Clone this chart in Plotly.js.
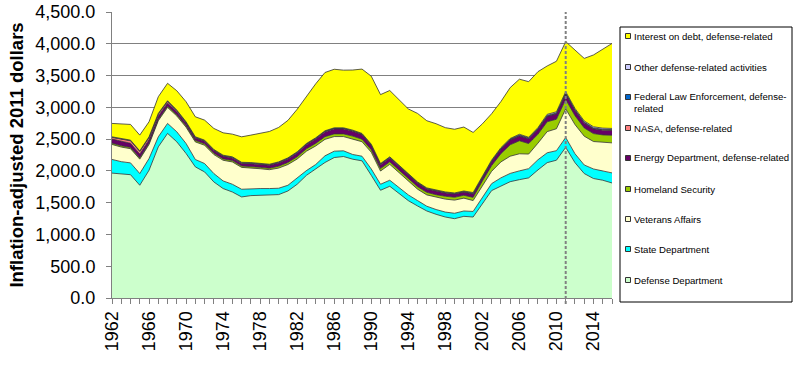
<!DOCTYPE html>
<html><head><meta charset="utf-8">
<script src="https://cdn.plot.ly/plotly-3.0.1.min.js"></script>
<style>html,body{margin:0;padding:0;background:#fff;}#chart{width:800px;height:370px;}</style>
</head><body><div id="chart"></div>
<script>
const years = [1962,1963,1964,1965,1966,1967,1968,1969,1970,1971,
  1972,1973,1974,1975,1976,1977,1978,1979,1980,1981,
  1982,1983,1984,1985,1986,1987,1988,1989,1990,1991,
  1992,1993,1994,1995,1996,1997,1998,1999,2000,2001,
  2002,2003,2004,2005,2006,2007,2008,2009,2010,2011,
  2012,2013,2014,2015,2016];

const defenseDept = [1965,1950,1940,1774,2010,2378,2590,2457,2274,2063,
  1984,1826,1722,1668,1590,1611,1616,1616,1627,1684,
  1790,1930,2026,2132,2210,2226,2184,2158,1930,1695,
  1758,1643,1532,1448,1369,1317,1274,1248,1285,1274,
  1480,1690,1760,1830,1862,1890,2015,2130,2168,2370,
  2130,1958,1880,1853,1810];
const stateDept = [215,195,186,184,185,158,157,158,157,116,
  132,132,120,122,121,111,106,106,100,90,
  100,75,74,105,100,90,74,73,100,95,
  95,95,90,85,75,75,78,85,84,88,
  100,110,130,130,138,145,160,155,150,156,
  140,135,150,150,158];
const veteransAffairs = [236,230,223,227,221,254,252,249,256,277,
  288,299,325,351,344,327,312,297,317,326,
  297,305,292,259,230,224,247,228,264,208,
  250,234,215,179,178,191,204,207,202,171,
  191,194,251,271,269,230,261,333,345,450,
  459,453,432,443,473];
const homelandSecurity = [20,20,20,20,20,20,20,20,22,22,
  22,22,22,22,22,22,22,22,30,32,
  35,38,40,42,42,42,42,40,40,38,
  40,40,40,40,40,42,45,45,45,50,
  70,90,130,180,205,165,140,155,150,150,
  140,130,125,120,120];
const energyDept = [65,70,65,60,55,55,50,45,42,40,
  40,40,40,40,40,42,44,46,50,55,
  60,65,70,75,78,78,76,72,68,62,
  60,60,58,56,52,52,50,50,50,52,
  55,62,70,75,78,75,80,85,85,88,
  82,78,75,75,75];
const nasa = [25,35,40,40,35,30,25,18,12,8,
  8,8,8,8,8,8,8,8,8,8,
  8,8,8,8,8,8,8,8,8,8,
  8,8,8,8,8,8,8,8,8,6,
  6,6,6,6,6,6,6,6,6,6,
  6,6,6,6,6];
const fedLawEnforcement = [5,5,5,5,5,5,5,5,5,5,
  5,5,5,5,5,5,5,5,5,5,
  5,5,5,5,5,5,5,5,5,5,
  5,5,5,5,5,5,5,5,5,8,
  8,8,8,8,8,8,8,8,8,8,
  8,8,8,8,8];
const otherDefense = [5,5,5,5,5,5,5,5,5,5,
  5,5,5,5,5,5,5,5,5,5,
  5,5,5,5,5,5,5,5,5,5,
  5,5,5,5,5,5,5,5,5,10,
  10,10,10,10,10,10,10,18,18,18,
  18,18,18,18,18];
const interestDebt = [211,226,247,248,237,262,274,304,315,315,
  315,331,352,357,401,432,468,515,542,590,
  670,739,850,917,921,907,946,1013,1070,1084,
  1044,1030,1022,1078,1057,1047,1011,1002,1006,946,
  820,730,725,800,867,875,881,761,795,788,
  917,984,1130,1237,1337];

const seriesNames = ["Defense Department","State Department","Veterans Affairs","Homeland Security",
  "Energy Department, defense-related","NASA, defense-related","Federal Law Enforcement, defense-related",
  "Other defense-related activities","Interest on debt, defense-related"];
const seriesValues = [defenseDept,stateDept,veteransAffairs,homelandSecurity,energyDept,nasa,fedLawEnforcement,otherDefense,interestDebt];
const seriesColors = ["#CCFFCC","#00FFFF","#FFFFCC","#99CC00","#660066","#FF8080","#0066CC","#CCCCFF","#FFFF00"];
const legendLabels = ["Interest on debt, defense-related","Other defense-related activities",
  "Federal Law Enforcement, defense-<br>related","NASA, defense-related","Energy Department, defense-related",
  "Homeland Security","Veterans Affairs","State Department","Defense Department"];
const yTitle = "Inflation-adjusted 2011 dollars";
const markerYear = 2011;

const FONT = "Liberation Sans, Arial, sans-serif";
const traces = seriesValues.map((v,i)=>({
  x: years, y: v, name: seriesNames[i], type:'scatter', mode:'lines',
  stackgroup:'one', fillcolor: seriesColors[i],
  line:{color:'#333333', width:0.8}, showlegend:false, hoverinfo:'skip'
}));

// pixel helpers for legend placement (plot area 112..612 x, 12..298 y)
const L=112, R=188, T=12, B=72, W=800, H=370;
const pw = W-L-R, ph = H-T-B;
const px = v => (v-L)/pw;
const py = v => (H-B-v)/ph;

const shapes = [
  {type:'line', xref:'x', yref:'paper', x0:markerYear, x1:markerYear, y0:py(304), y1:1,
   line:{color:'#808080', width:2, dash:'3px,2px'}},
  {type:'rect', xref:'paper', yref:'paper', x0:px(620), x1:px(792), y0:py(302), y1:py(27),
   line:{color:'#000000', width:1}, fillcolor:'rgba(0,0,0,0)'}
];
const annotations = [];
const entryY = [36, 67, 97, 128, 158, 189, 219, 249, 280];
legendLabels.forEach((lab,i)=>{
  const c = seriesColors[seriesColors.length-1-i];
  const yc = entryY[i];
  shapes.push({type:'rect', xref:'paper', yref:'paper', x0:px(625.5), x1:px(630.5), y0:py(yc+2.5), y1:py(yc-2.5),
    line:{color:'#333333', width:1}, fillcolor:c});
  const two = lab.indexOf('<br>')>=0;
  annotations.push({xref:'paper', yref:'paper', x:px(632), y:py(two? yc+5.5 : yc), xanchor:'left', yanchor:'middle',
    text:lab, showarrow:false, align:'left', font:{family:FONT, size:9.6, color:'#000'}});
});

const layout = {
  width:W, height:H, margin:{l:L, r:R, t:T, b:B, pad:0},
  paper_bgcolor:'#fff', plot_bgcolor:'#fff', showlegend:false,
  xaxis:{range:[1962,2016], tickmode:'linear', tick0:1962, dtick:4, tickangle:-90,
    ticks:'outside', ticklen:5, tickcolor:'#808080', showline:true, linecolor:'#808080', linewidth:1,
    showgrid:false, zeroline:false, tickfont:{family:FONT, size:18, color:'#000'},
    minor:{dtick:1, tick0:1962, ticks:'outside', ticklen:5, tickcolor:'#808080', showgrid:false}},
  yaxis:{range:[0,4500], dtick:500, tick0:0, tickformat:',.1f', showgrid:true, gridcolor:'#808080', gridwidth:1,
    showline:true, linecolor:'#808080', ticks:'outside', ticklen:5, tickcolor:'#808080', zeroline:false,
    ticklabelstandoff:7,
    tickfont:{family:FONT, size:18, color:'#000'},
    title:{text:yTitle, font:{family:FONT, size:18.5, color:'#000', weight:'bold'}, standoff:6}},
  shapes:shapes, annotations:annotations
};
Plotly.newPlot('chart', traces, layout, {staticPlot:true, displayModeBar:false});
</script></body></html>
